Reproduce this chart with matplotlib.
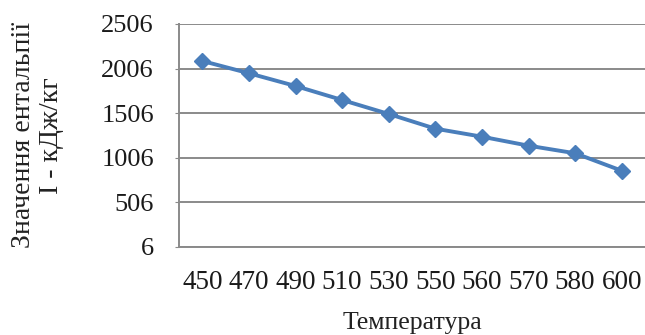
import matplotlib
matplotlib.use("Agg")
import matplotlib.pyplot as plt

# Enthalpy values versus temperature
temperatures = ["450", "470", "490", "510", "530", "550", "560", "570", "580", "600"]
enthalpy = [2091, 1953, 1810, 1653, 1496, 1331, 1241, 1140, 1055, 859]
y_ticks = [6, 506, 1006, 1506, 2006, 2506]

plt.rcParams["font.family"] = ["Liberation Serif", "DejaVu Serif"]

fig = plt.figure(figsize=(6.45, 3.35), dpi=100)
ax = fig.add_axes([179 / 645, 88.3 / 335, 466 / 645, 222.7 / 335])

x = list(range(len(temperatures)))
ax.plot(x, enthalpy, color="#4A7EBB", linewidth=2.8, marker="D",
        markersize=8, markerfacecolor="#4A7EBB", markeredgecolor="#4A7EBB",
        zorder=3)

ax.set_xlim(-0.5, len(temperatures) - 0.5)
ax.set_ylim(y_ticks[0], y_ticks[-1])
ax.set_yticks(y_ticks)
ax.set_yticklabels([str(v) for v in y_ticks], fontsize=19, color="#1a1a1a")
ax.set_xticks(x)
ax.set_xticklabels(temperatures, fontsize=19.5, color="#1a1a1a")

ax.yaxis.grid(True, color="#8a8a8a", linewidth=1.4)
ax.set_axisbelow(True)
for side in ("top", "right"):
    ax.spines[side].set_visible(False)
for side in ("left", "bottom"):
    ax.spines[side].set_color("#8a8a8a")
    ax.spines[side].set_linewidth(1.4)

ax.tick_params(axis="y", length=3, color="#8a8a8a", pad=15)
ax.tick_params(axis="x", length=0, pad=17)

ax.set_xlabel("Температура", fontsize=18.5, color="#222222", labelpad=12)
ax.set_ylabel("Значення ентальпії\nI - кДж/кг", fontsize=20, color="#222222",
              labelpad=27, linespacing=1.15)

fig.savefig("out.png", dpi=100, facecolor="white")
